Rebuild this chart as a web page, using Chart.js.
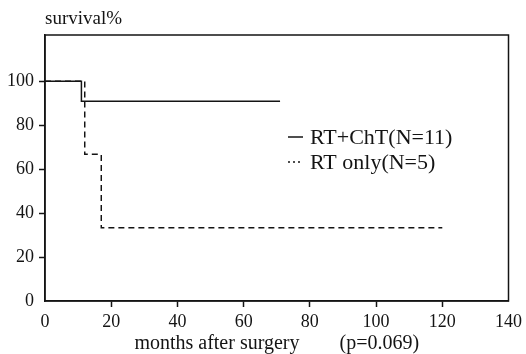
<!DOCTYPE html>
<html>
<head>
<meta charset="utf-8">
<script src="https://cdn.jsdelivr.net/npm/chart.js@4/dist/chart.umd.min.js"></script>
<style>
  html, body { margin: 0; padding: 0; background: #fff; }
  #wrap { width: 526px; height: 354px; position: relative; }
</style>
</head>
<body>
<div id="wrap"><canvas id="c"></canvas></div>
<script>
// ---- data ----
const chtMonths   = [0, 11, 71];
const chtSurvival = [100, 90.9, 90.9];
const rtMonths    = [0, 12, 17, 120];
const rtSurvival  = [100, 66.7, 33.3, 33.3];
const seriesLabels = ['RT+ChT(N=11)', 'RT only(N=5)'];
const xTickValues = [0, 20, 40, 60, 80, 100, 120, 140];
const yTickValues = [0, 20, 40, 60, 80, 100];
const yAxisLabel = 'survival%';
const xAxisLabel = 'months after surgery        (p=0.069)';

const INK = '#141414';
const FONT = '"Liberation Serif", "DejaVu Serif", serif';

function toPoints(xs, ys) { return xs.map((x, i) => ({ x: x, y: ys[i] })); }

const framePlugin = {
  id: 'frame',
  afterDraw(chart) {
    const { ctx, chartArea: a } = chart;
    ctx.save();
    ctx.strokeStyle = INK;
    ctx.lineWidth = 1.5;
    ctx.strokeRect(a.left, a.top, a.right - a.left, a.bottom - a.top);
    // y-axis caption
    ctx.fillStyle = INK;
    ctx.font = '19px ' + FONT;
    ctx.textBaseline = 'middle';
    ctx.textAlign = 'left';
    ctx.fillText(yAxisLabel, a.left, 19);
    // legend
    const ds = chart.data.datasets;
    const lx = a.left + 243, tx = lx + 22;
    const rows = [137, 162];
    ds.forEach((d, i) => {
      const y = rows[i];
      ctx.beginPath();
      ctx.lineWidth = 1.5;
      ctx.setLineDash(i === 0 ? [] : [2, 3]);
      ctx.moveTo(lx, y);
      ctx.lineTo(lx + 15, y);
      ctx.stroke();
      ctx.setLineDash([]);
      ctx.font = '22px ' + FONT;
      ctx.fillText(d.label, tx, y + 1);
    });
    ctx.restore();
  }
};

new Chart(document.getElementById('c'), {
  type: 'line',
  data: {
    datasets: [
      {
        label: seriesLabels[0],
        data: toPoints(chtMonths, chtSurvival),
        stepped: 'before',
        borderColor: INK,
        borderWidth: 1.5,
        pointRadius: 0,
        fill: false
      },
      {
        label: seriesLabels[1],
        data: toPoints(rtMonths, rtSurvival),
        stepped: 'before',
        borderColor: INK,
        borderWidth: 1.5,
        borderDash: [6, 4],
        pointRadius: 0,
        fill: false
      }
    ]
  },
  plugins: [framePlugin],
  options: {
    responsive: true,
    maintainAspectRatio: false,
    animation: false,
    layout: { padding: { top: 35, right: 12, left: 0, bottom: 0 } },
    plugins: { legend: { display: false }, tooltip: { enabled: false }, title: { display: false } },
    scales: {
      x: {
        type: 'linear',
        min: 0, max: 140,
        afterBuildTicks(scale) { scale.ticks = xTickValues.map(v => ({ value: v })); },
        afterFit(scale) { scale.height = 53; },
        border: { display: true, color: INK, width: 1.5 },
        grid: {
          drawOnChartArea: false,
          drawTicks: true,
          tickLength: 6,
          tickWidth: 1.5,
          tickColor: (c) => (c.index === 0 || c.index === xTickValues.length - 1) ? 'rgba(0,0,0,0)' : INK
        },
        ticks: {
          color: INK,
          padding: 4,
          maxRotation: 0,
          font: { family: FONT, size: 18 }
        },
        title: {
          display: true,
          text: xAxisLabel,
          color: INK,
          padding: { top: 0, bottom: 0 },
          font: { family: FONT, size: 20, lineHeight: 1 }
        }
      },
      y: {
        type: 'linear',
        min: 0, max: 121,
        afterBuildTicks(scale) { scale.ticks = yTickValues.map(v => ({ value: v })); },
        afterFit(scale) { scale.width = 45; },
        border: { display: true, color: INK, width: 1.5 },
        grid: {
          drawOnChartArea: false,
          drawTicks: true,
          tickLength: 6,
          tickWidth: 1.5,
          tickColor: (c) => c.index === 0 ? 'rgba(0,0,0,0)' : INK
        },
        ticks: {
          color: INK,
          padding: 5,
          font: { family: FONT, size: 18 }
        }
      }
    }
  }
});
</script>
</body>
</html>
